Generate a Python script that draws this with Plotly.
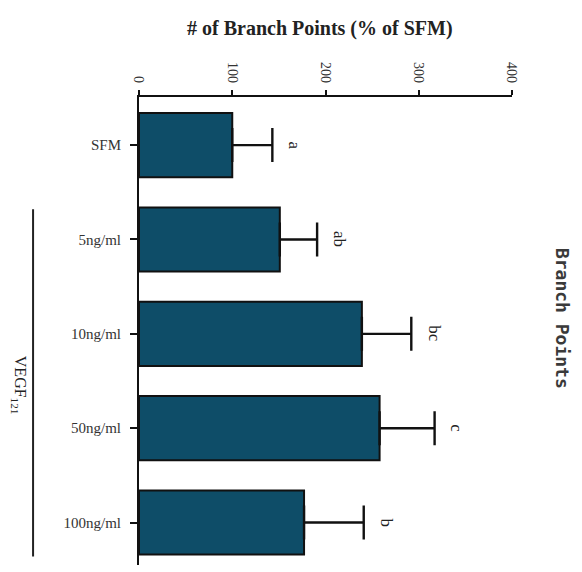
import plotly.graph_objects as go

categories = ["SFM", "5ng/ml", "10ng/ml", "50ng/ml", "100ng/ml"]
values = [100, 151, 239, 258, 177]
errors = [43, 40, 53, 59, 64]
letters = ["a", "ab", "bc", "c", "b"]
tick_vals = [0, 100, 200, 300, 400]

pos = list(range(len(categories)))
bar_color = "#0e4d68"
serif = "Liberation Serif, Times New Roman, serif"

fig = go.Figure()
fig.add_trace(go.Bar(
    x=values, y=pos, orientation="h", width=0.68,
    marker=dict(color=bar_color, line=dict(color="#111111", width=2)),
    error_x=dict(type="data", array=errors, arrayminus=[0]*len(errors),
                 color="#111111", thickness=2.4, width=17),
    showlegend=False,
))
for v, e, p, t in zip(values, errors, pos, letters):
    fig.add_annotation(x=v + e + 24, y=p, text=t, showarrow=False, textangle=90,
                       font=dict(family=serif, size=17, color="#222222"))

fig.update_layout(
    width=582, height=572,
    margin=dict(l=131, r=78, t=89, b=15),
    paper_bgcolor="white", plot_bgcolor="white",
    xaxis=dict(range=[0, 400], side="top", tickvals=tick_vals,
               tickangle=90, showline=True, linecolor="#111111", linewidth=2,
               ticks="outside", ticklen=5, tickwidth=2, tickcolor="#111111",
               showgrid=False, zeroline=False, ticklabelstandoff=2,
               tickfont=dict(family=serif, size=14, color="#333333")),
    yaxis=dict(range=[4.45, -0.51], tickvals=pos, ticktext=categories,
               showline=True, linecolor="#111111", linewidth=2,
               ticks="outside", ticklen=7, tickwidth=2, tickcolor="#111111",
               showgrid=False, zeroline=False, ticklabelstandoff=6,
               tickfont=dict(family=serif, size=15, color="#333333")),
)

fig.add_annotation(xref="paper", yref="paper", x=0.485, y=1.0, yshift=69,
                   xanchor="center", yanchor="middle",
                   text="<b># of Branch Points (% of SFM)</b>", showarrow=False,
                   font=dict(family=serif, size=20, color="#222222"))
fig.add_annotation(xref="paper", yref="paper", x=1.0, xshift=50, y=0.528,
                   xanchor="center", yanchor="middle",
                   text="<b>Branch Points</b>", showarrow=False, textangle=90,
                   font=dict(family="DejaVu Sans Mono, monospace", size=18, color="#3a3a3a"))
fig.add_annotation(xref="paper", yref="paper", x=0, xshift=-120, y=0.385,
                   xanchor="center", yanchor="middle",
                   text="VEGF<sub>121</sub>", showarrow=False, textangle=90,
                   font=dict(family=serif, size=16, color="#222222"))
fig.add_shape(type="line", xref="paper", yref="y", x0=-0.284, x1=-0.284,
              y0=0.68, y1=4.36, line=dict(color="#222222", width=2))

fig.write_html("out.html")
